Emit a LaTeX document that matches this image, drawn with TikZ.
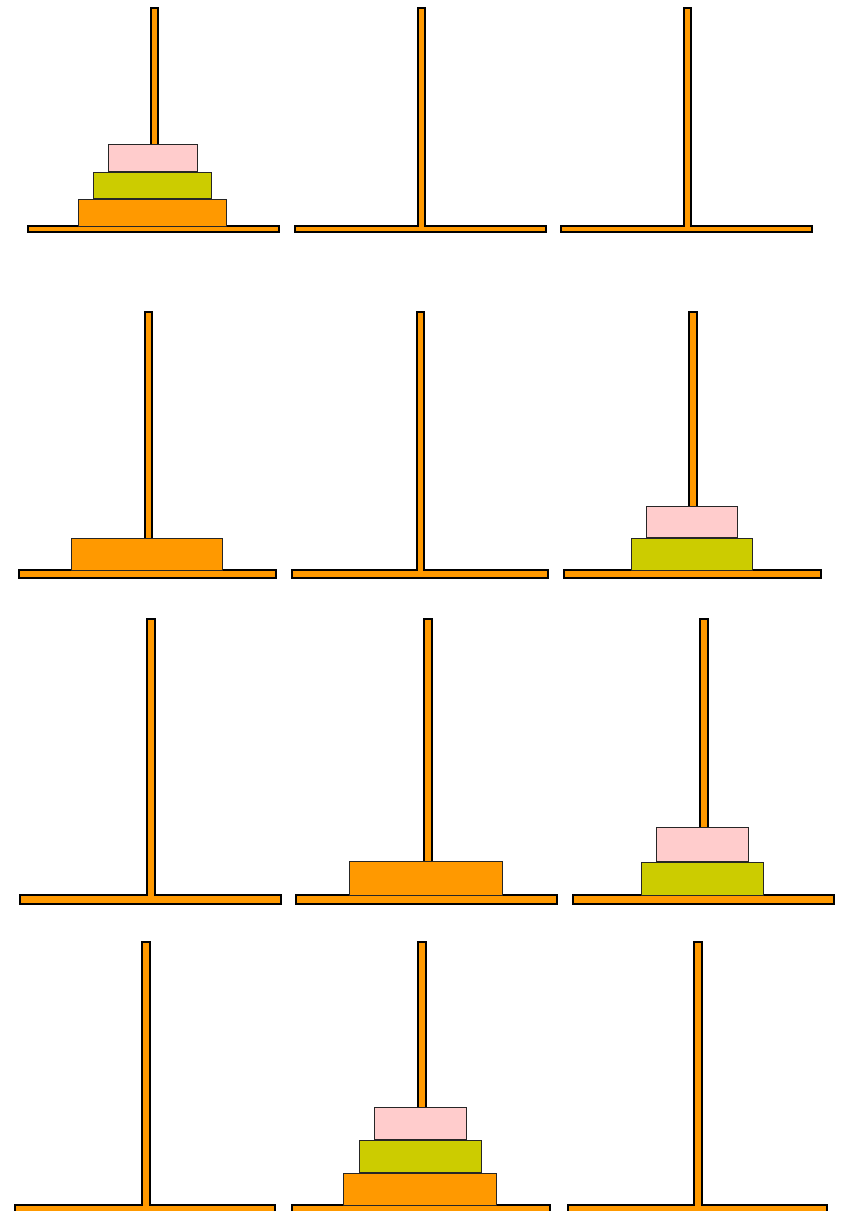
\documentclass[tikz,border=0pt]{standalone}
\definecolor{rodorange}{HTML}{FF9900}
\definecolor{diskpink}{HTML}{FFCCCC}
\definecolor{diskyellow}{HTML}{CCCC00}
\definecolor{diskorange}{HTML}{FF9900}
\tikzset{
  rodstyle/.style={draw=black, fill=rodorange, line width=2pt, line join=miter},
  diskstyle/.style={draw=black!85, line width=1pt}
}
% tower: center, rod half width, rod top, base left, base right, base top, base bottom (outer edges)
\newcommand\hanoiT[7]{%
  \draw[rodstyle] ({#4+1},{#6+1}) -- ({#1-#2+1},{#6+1}) -- ({#1-#2+1},{#3+1})
    -- ({#1+#2-1},{#3+1}) -- ({#1+#2-1},{#6+1}) -- ({#5-1},{#6+1})
    -- ({#5-1},{#7-1}) -- ({#4+1},{#7-1}) -- cycle;}
% disk: left, right, top, bottom, colour
\newcommand\hanoiD[5]{%
  \draw[diskstyle, fill=#5] ({#1+0.5},{#3+0.5}) rectangle ({#2-0.5},{#4-0.5});}
\begin{document}
\begin{tikzpicture}[x=1pt,y=-1pt]
\useasboundingbox (0,0) rectangle (841,1211);
\clip (0,0) rectangle (841,1211);
% Row 1
\hanoiT{154}{4.5}{7}{27}{280}{225}{233}
\hanoiT{421}{4.5}{7}{294}{547}{225}{233}
\hanoiT{687.5}{4.5}{7}{560}{813}{225}{233}
\hanoiD{108}{198}{144}{172}{diskpink}
\hanoiD{93}{212}{172}{199}{diskyellow}
\hanoiD{78}{227}{199}{227}{diskorange}
% Row 2
\hanoiT{148.5}{4.75}{311}{18}{277}{569}{579}
\hanoiT{420.5}{4.75}{311}{291}{549}{569}{579}
\hanoiT{693}{4.75}{311}{563}{822}{569}{579}
\hanoiD{71}{223}{538}{571}{diskorange}
\hanoiD{646}{738}{506}{538}{diskpink}
\hanoiD{631}{753}{538}{571}{diskyellow}
% Row 3
\hanoiT{151}{4.75}{618}{19}{282}{894}{905}
\hanoiT{428}{4.75}{618}{295}{558}{894}{905}
\hanoiT{704}{4.75}{618}{572}{835}{894}{905}
\hanoiD{349}{503}{861}{896}{diskorange}
\hanoiD{656}{749}{827}{862}{diskpink}
\hanoiD{641}{764}{862}{896}{diskyellow}
% Row 4
\hanoiT{146}{4.75}{941}{14}{276}{1204}{1215}
\hanoiT{422}{4.75}{941}{291}{551}{1204}{1215}
\hanoiT{698}{4.75}{941}{567}{828}{1204}{1215}
\hanoiD{374}{467}{1107}{1140}{diskpink}
\hanoiD{359}{482}{1140}{1173}{diskyellow}
\hanoiD{343}{497}{1173}{1206}{diskorange}
\end{tikzpicture}
\end{document}
